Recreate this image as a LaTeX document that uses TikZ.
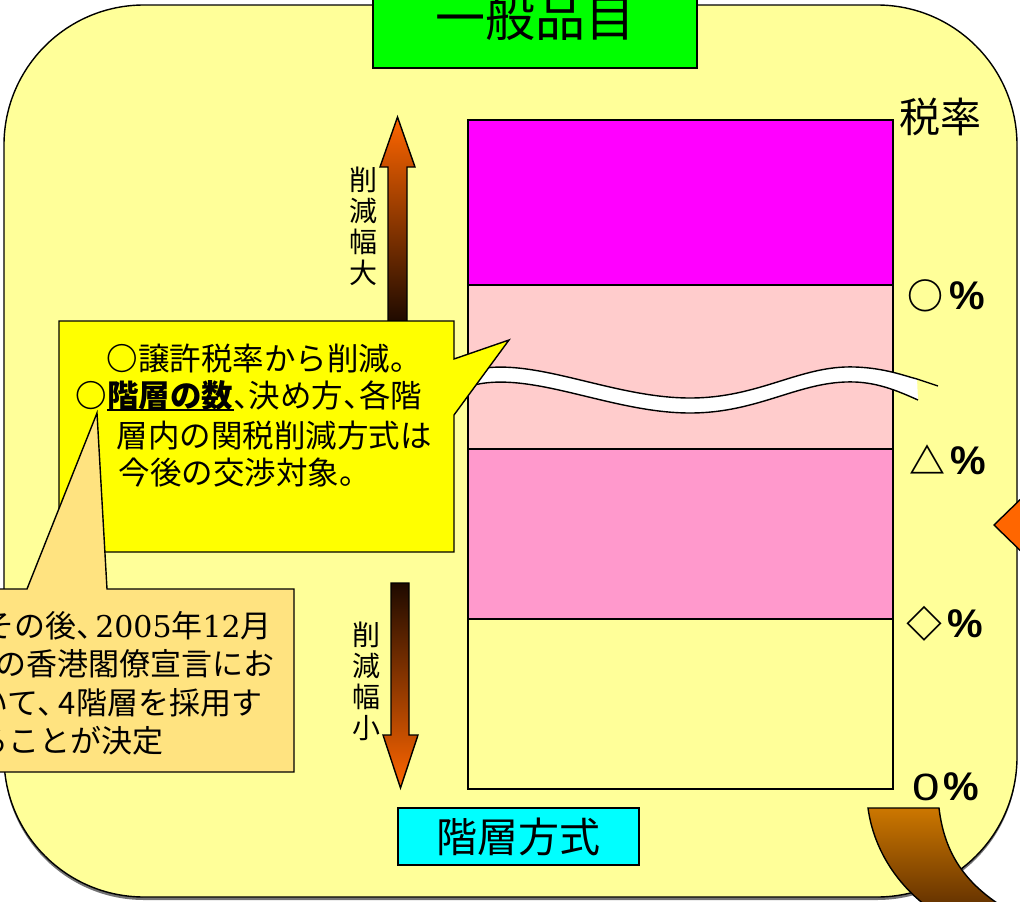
\documentclass[tikz,border=0pt]{standalone}
\usepackage{fontspec}
\newfontfamily\jp{Noto Sans CJK JP}
\newfontfamily\arial{Liberation Sans}
\newfontfamily\digserif{DejaVu Serif}
\definecolor{bgyellow}{HTML}{FFFF99}
\definecolor{magen}{HTML}{FF00FF}
\definecolor{lpink}{HTML}{FFCCCC}
\definecolor{mpink}{HTML}{FF99CC}
\definecolor{cyellow}{HTML}{FFFF00}
\definecolor{corange}{HTML}{FFE380}
\definecolor{aorange}{HTML}{FF6600}
\definecolor{adark}{HTML}{1E0A00}
\definecolor{brtop}{HTML}{CC7700}
\definecolor{brbot}{HTML}{663300}
\definecolor{tgreen}{HTML}{00FF00}
\definecolor{tcyan}{HTML}{00FFFF}
\newcommand\mysym[1]{{\jp\bfseries\fontsize{36bp}{40bp}\selectfont #1}}
\newcommand\mypct{{\arial\bfseries\fontsize{40bp}{44bp}\selectfont\%}}
\newcommand\mydig[1]{{\digserif\fontsize{30bp}{36bp}\selectfont #1}}
\newcommand\mycirc{{\bfseries ○}}
\tikzset{
  yl/.style={font=\jp\fontsize{31.5bp}{38bp}\selectfont, inner sep=0pt, anchor=base west},
  bl/.style={font=\jp\fontsize{31bp}{38bp}\selectfont, inner sep=0pt, anchor=base west},
  rl/.style={inner sep=0pt, anchor=base west},
  vt/.style={font=\jp\fontsize{28bp}{31bp}\selectfont, align=center, inner sep=0pt},
  titlebox/.style={draw, inner sep=0pt},
}
\begin{document}
\begin{tikzpicture}[x=1bp,y=-1bp,line width=1.4bp,line join=miter]
\clip (0,0) rectangle (1020,902);
\fill[white] (0,0) rectangle (1020,902);
% main rounded panel
\fill[black!55, rounded corners=140bp] (4,8) rectangle (1017,900);
\draw[fill=bgyellow, rounded corners=140bp] (4,5) rectangle (1017,897);
% title
\node[titlebox, fill=tgreen, minimum width=324bp, minimum height=100bp,
      font=\jp\fontsize{50bp}{60bp}\selectfont] (title) at (535,18) {一般品目};
% tiers
\draw[fill=magen] (468,120) rectangle (893,285);
\draw[fill=lpink] (468,285) rectangle (893,449);
\draw[fill=mpink] (468,449) rectangle (893,619);
\draw[fill=bgyellow] (468,619) rectangle (893,789);
% white break band
\fill[white] (470,371) .. controls (530,354) and (610,398) .. (690,398)
  .. controls (760,398) and (800,365) .. (855,367)
  .. controls (885,368) and (905,376) .. (917,379) -- (918,400)
  .. controls (900,392) and (880,383) .. (855,382)
  .. controls (800,380) and (760,413) .. (690,413)
  .. controls (610,413) and (530,369) .. (470,386) -- cycle;
\draw (470,371) .. controls (530,354) and (610,398) .. (690,398)
  .. controls (760,398) and (800,365) .. (855,367)
  .. controls (885,368) and (905,376) .. (917,379) -- (938,386);
\draw (470,386) .. controls (530,369) and (610,413) .. (690,413)
  .. controls (760,413) and (800,380) .. (855,382)
  .. controls (880,383) and (900,392) .. (918,400);
% right labels
\node[rl, font=\jp\fontsize{41bp}{48bp}\selectfont] (rate) at (899,132.5) {税率};
\node[rl] (r1) at (907,309) {\mysym{○}\kern6bp\mypct};
\node[rl] (r2) at (909,474) {\mysym{△}\kern5bp\mypct};
\node[rl] (r3) at (906,637) {\mysym{◇}\kern5bp\mypct};
\node[rl] (r4) at (912,800) {{\arial\fontsize{38bp}{42bp}\selectfont\scalebox{1.3}[1]{0}}\kern3bp\mypct};
% arrows
\draw[top color=aorange, bottom color=adark] (388,322) -- (388,167) -- (380,167) -- (397.5,117)
  -- (415,167) -- (407,167) -- (407,322) -- cycle;
\draw[top color=adark, bottom color=aorange] (391,583) -- (409,583) -- (409,735) -- (418,735)
  -- (400.5,788) -- (383,735) -- (391,735) -- cycle;
\node[vt] (big) at (363,226) {削\\減\\幅\\大};
\node[vt] (small) at (366,681) {削\\減\\幅\\小};
% yellow callout
\draw[fill=cyellow] (59,321) -- (454,321) -- (454,359) -- (509,340) -- (454,415)
  -- (454,552) -- (59,552) -- cycle;
\node[yl] (y1) at (106,370.5) {\mycirc 譲許税率から削減。};
\node[yl] (y2) at (75,407) {\mycirc\textbf{階層の数}、\kern-0.5em 決め方、\kern-0.5em 各階};
\draw[line width=2bp] (107,410) -- (234,410);
\node[yl] (y3) at (116,447.5) {層内の関税削減方式は};
\node[yl] (y4) at (118,484.5) {今後の交渉対象。};
% orange callout
\draw[fill=corange] (-10,589) -- (27,589) -- (97,413) -- (107,589) -- (294,589)
  -- (294,772) -- (-10,772) -- cycle;
\node[bl] (b1) at (-17,637) {その後、\kern-0.4em\mydig{2005}年\mydig{12}月};
\node[bl] (b2) at (-5,675) {の香港閣僚宣言にお};
\node[bl] (b3) at (-23,714) {いて、\kern-0.3em 4階層を採用す};
\node[bl] (b4) at (-23,752) {ることが決定};
% method box
\node[titlebox, fill=tcyan, minimum width=241bp, minimum height=57bp,
      font=\jp\fontsize{41bp}{48bp}\selectfont] (method) at (518.5,836.5) {階層方式};
% side arrows
\draw[fill=aorange] (994,525) -- (1030,490) -- (1030,560) -- cycle;
\draw[top color=brtop, bottom color=brbot] (868,808) -- (939,808)
  .. controls (944,850) and (962,880) .. (1000,905) -- (925,905)
  .. controls (893,880) and (873,845) .. (868,808) -- cycle;
\end{tikzpicture}
\end{document}
